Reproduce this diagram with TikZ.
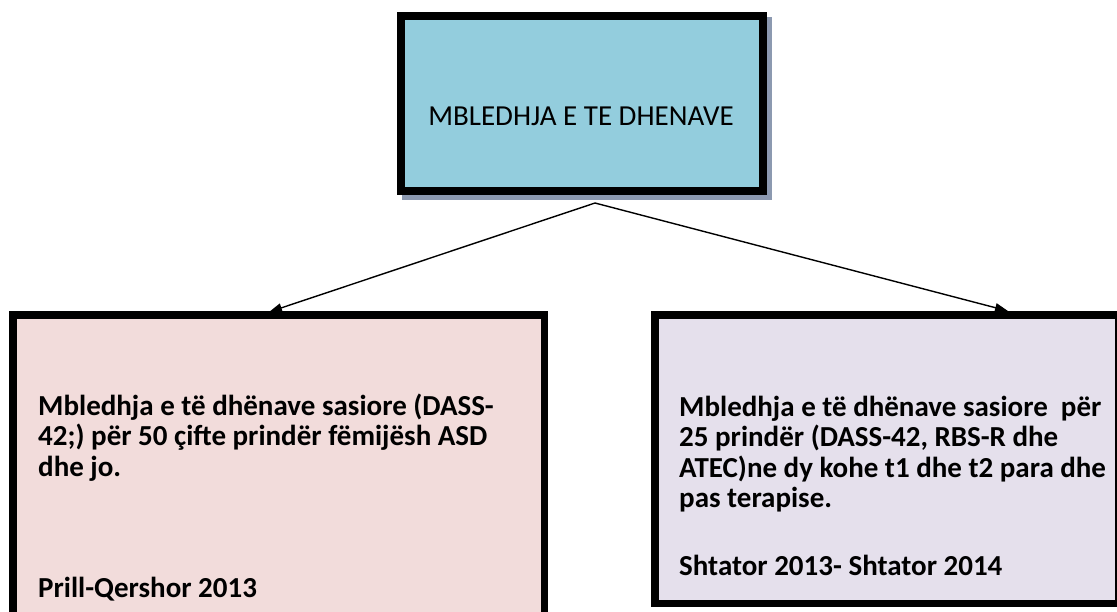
\documentclass[tikz,border=0pt]{standalone}
\usepackage{fontspec}
\setmainfont{Carlito}
\usetikzlibrary{arrows.meta}
\definecolor{topfill}{HTML}{93CDDD}
\definecolor{leftfill}{HTML}{F2DCDB}
\definecolor{rightfill}{HTML}{E5E0EC}
\definecolor{shadowcol}{HTML}{8C99B0}
\begin{document}
\begin{tikzpicture}[x=1pt,y=-1pt,
  box/.style={draw=black, line width=7.5pt, rectangle, inner sep=0pt},
  bodytext/.style={anchor=base west, inner sep=0pt, align=left,
    font=\fontsize{29}{30.5}\selectfont\bfseries},
  link/.style={line width=1.4pt, -{Triangle[length=13pt,width=9pt]}}]
\useasboundingbox (0,0) rectangle (1117,611);
% top box with shadow
\node[fill=shadowcol, inner sep=0pt, minimum width=370pt, minimum height=183pt] (topshadow) at (587,108.5) {};
\node[box, line width=8pt, fill=topfill, minimum width=362pt, minimum height=175pt] (topbox) at (582,103.5) {};
\node[inner sep=0pt, anchor=base, font=\fontsize{29}{31}\selectfont] (toptext) at (581,125) {MBLEDHJA E TE DHENAVE};
% lower boxes
\node[box, fill=leftfill, minimum width=531.5pt, minimum height=341pt] (leftbox) at (278.5,485.4) {};
\node[box, fill=rightfill, minimum width=463.5pt, minimum height=288.5pt] (rightbox) at (886.5,459) {};
% base anchor of a multi-line node = baseline of its last line
\node[bodytext] (lefttext) at (38,476) {Mbledhja e të dhënave sasiore (DASS-\\42;) për 50 çifte prindër fëmijësh ASD\\dhe jo.};
\node[bodytext] (leftdate) at (38,597) {Prill-Qershor 2013};
\node[bodytext] (righttext) at (679,507.5) {Mbledhja e të dhënave sasiore~ për\\25 prindër (DASS-42, RBS-R dhe\\ATEC)ne dy kohe t1 dhe t2 para dhe\\pas terapise.};
\node[bodytext] (rightdate) at (679,575) {Shtator 2013- Shtator 2014};
% connectors
\coordinate (apex) at (595,203);
\coordinate (ltip) at (269,312);
\coordinate (rtip) at (1008,311);
\draw[link] (apex) -- (ltip);
\draw[link] (apex) -- (rtip);
\end{tikzpicture}
\end{document}
